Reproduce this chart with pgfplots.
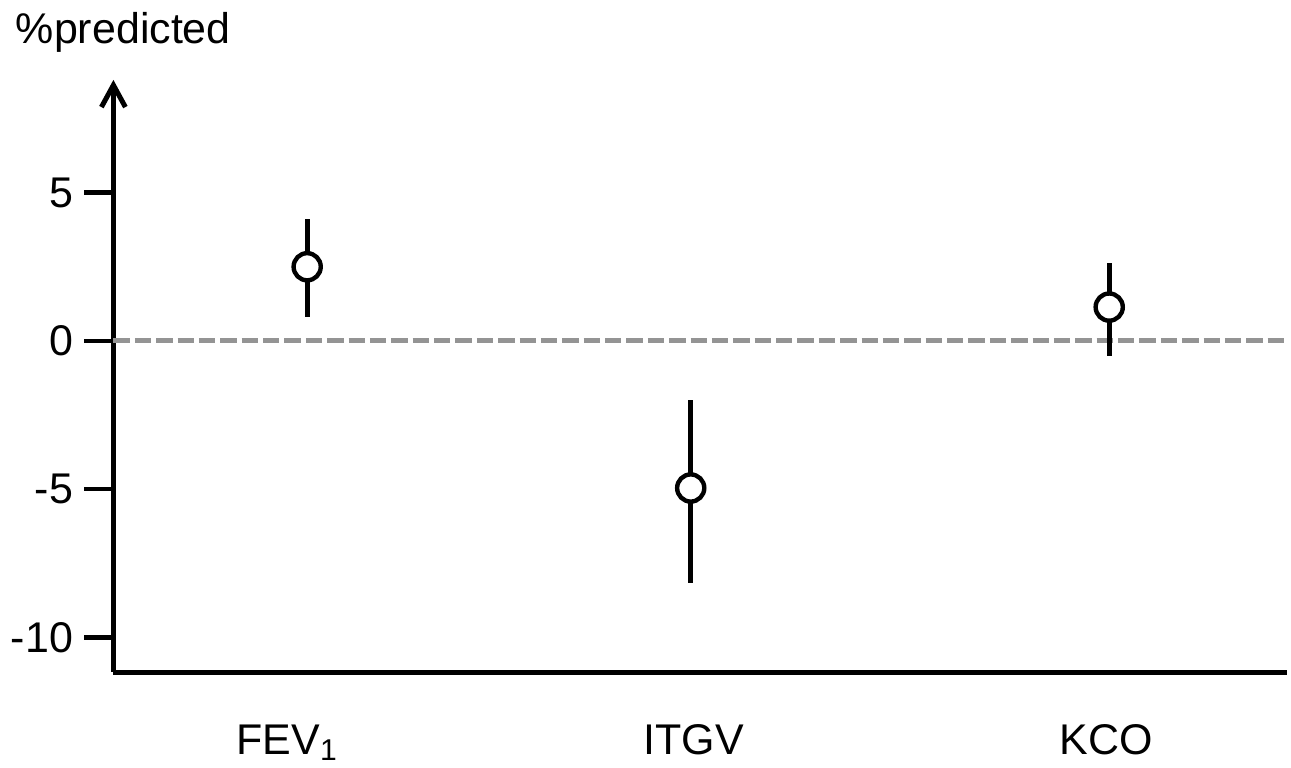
\documentclass[border=0pt]{standalone}
\usepackage{fontspec}
\setmainfont{Liberation Sans}
\usepackage{pgfplots}
\pgfplotsset{compat=1.18}
\usetikzlibrary{arrows.meta}
\definecolor{zerogray}{RGB}{148,148,148}
\begin{document}
\begin{tikzpicture}
\begin{axis}[
  scale only axis, width=587.5pt, height=296.5pt,
  xmin=0, xmax=1175, ymin=-11.17, ymax=8.80,
  axis x line=bottom, axis y line=left,
  axis line style={line width=2.5pt, black},
  x axis line style={-},
  y axis line style={-{Straight Barb[length=11pt,width=12pt,line width=2.5pt]}},
  tick align=outside, major tick length=14.5pt,
  ytick={-10,-5,0,5}, yticklabels={-10,-5,0,5},
  ytick style={line width=2.2pt, black},
  xtick={174,581,994}, xticklabels={FEV\textsubscript{1},ITGV,KCO},
  xtick style={draw=none},
  tick label style={font=\fontsize{21.5}{25}\selectfont},
  y tick label style={inner sep=5.5pt},
  x tick label style={anchor=base, yshift=-26.5pt},
  ylabel={\%predicted},
  every axis y label/.style={at={(axis description cs:0,1)}, anchor=base west, inner sep=0pt, xshift=-49pt, yshift=18pt, font=\fontsize{21.5}{25}\selectfont},
  clip=false,
]
\addplot[zerogray, line width=2.5pt, dash pattern=on 8.2pt off 2.5pt] coordinates {(0,0) (1175,0)};
\addplot[only marks, mark=none, black,
  error bars/.cd, y dir=both, y explicit, error mark=none,
  error bar style={line width=2.5pt, black, solid}]
  coordinates {
    (194,2.50) += (0,1.61) -= (0,1.70)
    (578,-4.96) += (0,2.97) -= (0,3.19)
    (997,1.14) += (0,1.47) -= (0,1.66)
  };
\addplot[only marks, mark=*, mark size=6.8pt, mark options={fill=white, draw=black, line width=2.2pt, solid}]
  coordinates {(194,2.50) (578,-4.96) (997,1.14)};
\coordinate (bl) at (rel axis cs:0,0);
\coordinate (tr) at (rel axis cs:1,1);
\end{axis}
\useasboundingbox ([shift={(-56pt,-44pt)}]bl) rectangle ([shift={(2pt,40pt)}]tr);
\end{tikzpicture}
\end{document}
